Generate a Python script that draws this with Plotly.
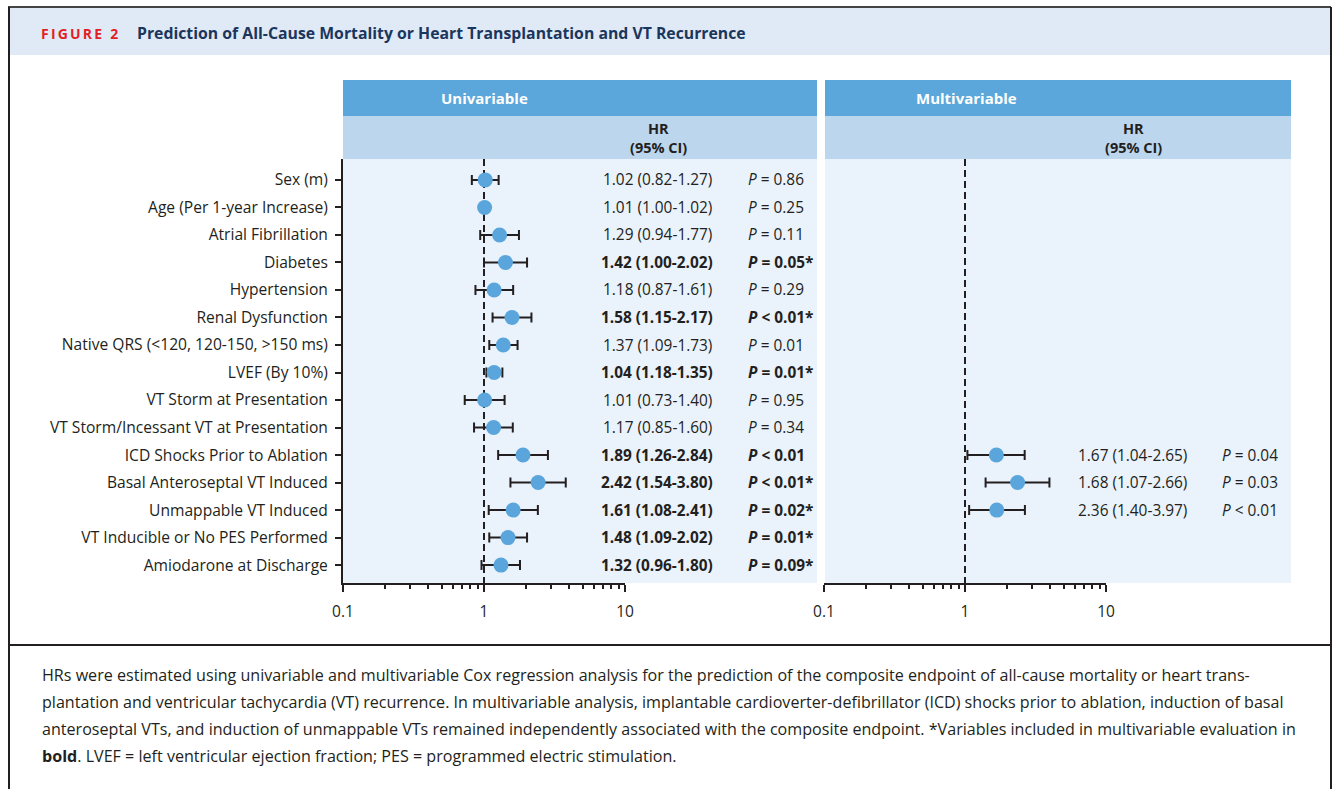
import plotly.graph_objects as go

W, H = 1337, 789


def px(x):
    return x / W


def py(y):
    return 1 - y / H


FONT = "Open Sans"
TXT = "#231f20"
NAVY = "#1b365d"
RED = "#e31e24"
DOT = "#5aa5db"
DARK_HDR = "#5ba6da"
LIGHT_HDR = "#bcd6ee"
PANEL_BG = "#eaf2fb"
TITLE_BG = "#dfeaf6"

# ---------------- data ----------------
variables = [
    "Sex (m)",
    "Age (Per 1-year Increase)",
    "Atrial Fibrillation",
    "Diabetes",
    "Hypertension",
    "Renal Dysfunction",
    "Native QRS (<120, 120-150, >150 ms)",
    "LVEF (By 10%)",
    "VT Storm at Presentation",
    "VT Storm/Incessant VT at Presentation",
    "ICD Shocks Prior to Ablation",
    "Basal Anteroseptal VT Induced",
    "Unmappable VT Induced",
    "VT Inducible or No PES Performed",
    "Amiodarone at Discharge",
]

# univariable hazard ratios as plotted
uni_hr = [1.02, 1.01, 1.29, 1.42, 1.18, 1.58, 1.37, 1.18, 1.01, 1.17, 1.89, 2.42, 1.61, 1.48, 1.32]
uni_lo = [0.82, 1.00, 0.94, 1.00, 0.87, 1.15, 1.09, 1.04, 0.73, 0.85, 1.26, 1.54, 1.08, 1.09, 0.96]
uni_hi = [1.27, 1.02, 1.77, 2.02, 1.61, 2.17, 1.73, 1.35, 1.40, 1.60, 2.84, 3.80, 2.41, 2.02, 1.80]

uni_ci_text = [
    "1.02 (0.82-1.27)", "1.01 (1.00-1.02)", "1.29 (0.94-1.77)", "1.42 (1.00-2.02)",
    "1.18 (0.87-1.61)", "1.58 (1.15-2.17)", "1.37 (1.09-1.73)", "1.04 (1.18-1.35)",
    "1.01 (0.73-1.40)", "1.17 (0.85-1.60)", "1.89 (1.26-2.84)", "2.42 (1.54-3.80)",
    "1.61 (1.08-2.41)", "1.48 (1.09-2.02)", "1.32 (0.96-1.80)",
]
uni_p_text = [
    "= 0.86", "= 0.25", "= 0.11", "= 0.05*", "= 0.29", "< 0.01*", "= 0.01", "= 0.01*",
    "= 0.95", "= 0.34", "< 0.01", "< 0.01*", "= 0.02*", "= 0.01*", "= 0.09*",
]
uni_bold = [False, False, False, True, False, True, False, True,
            False, False, True, True, True, True, True]

# multivariable (rows where a result exists)
multi_vars = ["ICD Shocks Prior to Ablation", "Basal Anteroseptal VT Induced", "Unmappable VT Induced"]
multi_hr = [1.67, 2.36, 1.68]
multi_lo = [1.04, 1.40, 1.07]
multi_hi = [2.65, 3.97, 2.66]
multi_ci_text = ["1.67 (1.04-2.65)", "1.68 (1.07-2.66)", "2.36 (1.40-3.97)"]
multi_p_text = ["= 0.04", "= 0.03", "< 0.01"]

x_tickvals = [0.1, 1, 10]
x_ticktext = ["0.1", "1", "10"]
x_minor = [0.2, 0.3, 0.4, 0.5, 0.6, 0.7, 0.8, 0.9, 2, 3, 4, 5, 6, 7, 8, 9]

caption_lines = [
    "HRs were estimated using univariable and multivariable Cox regression analysis for the prediction of the composite endpoint of all-cause mortality or heart trans-",
    "plantation and ventricular tachycardia (VT) recurrence. In multivariable analysis, implantable cardioverter-defibrillator (ICD) shocks prior to ablation, induction of basal",
    "anteroseptal VTs, and induction of unmappable VTs remained independently associated with the composite endpoint. *Variables included in multivariable evaluation in",
    "<b>bold</b>. LVEF = left ventricular ejection fraction; PES = programmed electric stimulation.",
]

# ---------------- figure ----------------
rows = list(range(len(variables)))
multi_rows = [variables.index(v) for v in multi_vars]
Y_RANGE = [14.65, -0.76]

fig = go.Figure()

for xa, ya in (("x", "y"), ("x2", "y2")):
    fig.add_trace(go.Scatter(
        x=[1, 1], y=[Y_RANGE[1], Y_RANGE[0]], mode="lines",
        line=dict(color=TXT, width=2, dash="7px,4px"),
        xaxis=xa, yaxis=ya, hoverinfo="skip", showlegend=False,
    ))

fig.add_trace(go.Scatter(
    x=uni_hr, y=rows, mode="markers",
    marker=dict(size=15, color=DOT),
    error_x=dict(type="data", symmetric=False,
                 array=[h - m for h, m in zip(uni_hi, uni_hr)],
                 arrayminus=[m - l for m, l in zip(uni_hr, uni_lo)],
                 color=TXT, thickness=2, width=5),
    xaxis="x", yaxis="y", showlegend=False, cliponaxis=False,
))
fig.add_trace(go.Scatter(
    x=multi_hr, y=multi_rows, mode="markers",
    marker=dict(size=15, color=DOT),
    error_x=dict(type="data", symmetric=False,
                 array=[h - m for h, m in zip(multi_hi, multi_hr)],
                 arrayminus=[m - l for m, l in zip(multi_hr, multi_lo)],
                 color=TXT, thickness=2, width=5),
    xaxis="x2", yaxis="y2", showlegend=False, cliponaxis=False,
))

xaxis_common = dict(
    type="log", range=[-1, 1], tickmode="array", tickvals=x_tickvals, ticktext=x_ticktext,
    ticks="outside", ticklen=7, tickwidth=2, tickcolor=TXT,
    showline=True, linewidth=2, linecolor=TXT, showgrid=False, zeroline=False,
    tickfont=dict(family=FONT, size=15.5, color=TXT), ticklabelstandoff=6,
    minor=dict(tickmode="array", tickvals=x_minor, ticks="outside", ticklen=4,
               tickwidth=1.5, tickcolor=TXT, showgrid=False),
    fixedrange=True, automargin=False,
)

shapes = []


def rect(x0, y0, x1, y1, color):
    shapes.append(dict(type="rect", xref="paper", yref="paper", x0=px(x0), x1=px(x1),
                       y0=py(y1), y1=py(y0), fillcolor=color, line=dict(width=0), layer="below"))


def line(x0, y0, x1, y1, color=TXT, width=2):
    shapes.append(dict(type="line", xref="paper", yref="paper", x0=px(x0), x1=px(x1),
                       y0=py(y0), y1=py(y1), line=dict(color=color, width=width), layer="above"))


# title band and frame
rect(9, 8, 1331, 55, TITLE_BG)
line(8, 7, 1331, 7, "#444", 2)
line(9, 7, 9, 789)
line(1331, 7, 1331, 789)
line(9, 645, 1331, 645)

# panels
for x0, x1 in ((343, 817), (825, 1291)):
    rect(x0, 80, x1, 116, DARK_HDR)
    rect(x0, 116, x1, 159, LIGHT_HDR)
    rect(x0, 159, x1, 583, PANEL_BG)

annotations = []

annotations.append(dict(xref="paper", yref="paper", x=px(39), y=py(33), xanchor="left", yanchor="middle",
                        text='<span style="letter-spacing:2.2px"><b>FIGURE 2</b></span>', showarrow=False,
                        font=dict(family=FONT, size=14, color=RED)))
annotations.append(dict(xref="paper", yref="paper", x=px(135), y=py(33), xanchor="left", yanchor="middle",
                        text="<b>Prediction of All-Cause Mortality or Heart Transplantation and VT Recurrence</b>",
                        showarrow=False, font=dict(family=FONT, size=15.8, color=NAVY)))

for label, cx, hx in (("Univariable", 484, 658), ("Multivariable", 966, 1133)):
    annotations.append(dict(xref="paper", yref="paper", x=px(cx), y=py(98), xanchor="center",
                            yanchor="middle", text=f"<b>{label}</b>", showarrow=False,
                            font=dict(family=FONT, size=15, color="white")))
    annotations.append(dict(xref="paper", yref="paper", x=px(hx), y=py(128), xanchor="center",
                            yanchor="middle", text="<b>HR</b>", showarrow=False,
                            font=dict(family=FONT, size=14.5, color=TXT)))
    annotations.append(dict(xref="paper", yref="paper", x=px(hx), y=py(147), xanchor="center",
                            yanchor="middle", text="<b>(95% CI)</b>", showarrow=False,
                            font=dict(family=FONT, size=14.5, color=TXT)))

VAL_SIZE = 15.4
for i, (ci, p, b) in enumerate(zip(uni_ci_text, uni_p_text, uni_bold)):
    ci_t = f"<b>{ci}</b>" if b else ci
    p_t = f"<b><i>P</i> {p}</b>" if b else f"<i>P</i> {p}"
    annotations.append(dict(xref="paper", yref="y", x=px(657), y=i, xanchor="center", yanchor="middle",
                            text=ci_t, showarrow=False, font=dict(family=FONT, size=VAL_SIZE, color=TXT)))
    annotations.append(dict(xref="paper", yref="y", x=px(746), y=i, xanchor="left", yanchor="middle",
                            text=p_t, showarrow=False, font=dict(family=FONT, size=VAL_SIZE, color=TXT)))

for r, ci, p in zip(multi_rows, multi_ci_text, multi_p_text):
    annotations.append(dict(xref="paper", yref="y2", x=px(1132), y=r, xanchor="center", yanchor="middle",
                            text=ci, showarrow=False, font=dict(family=FONT, size=VAL_SIZE, color=TXT)))
    annotations.append(dict(xref="paper", yref="y2", x=px(1220), y=r, xanchor="left", yanchor="middle",
                            text=f"<i>P</i> {p}", showarrow=False, font=dict(family=FONT, size=VAL_SIZE, color=TXT)))

for k, (txt, yy) in enumerate(zip(caption_lines, (675, 702, 729, 756))):
    annotations.append(dict(xref="paper", yref="paper", x=px(40), y=py(yy), xanchor="left", yanchor="middle",
                            text=txt, showarrow=False, font=dict(family=FONT, size=16.1, color=TXT)))

fig.update_layout(
    width=W, height=H, autosize=False,
    margin=dict(l=0, r=0, t=0, b=0, pad=0, autoexpand=False),
    paper_bgcolor="white", plot_bgcolor="rgba(0,0,0,0)",
    showlegend=False,
    font=dict(family=FONT, color=TXT),
    xaxis=dict(domain=[px(343), px(625)], anchor="y", **xaxis_common),
    xaxis2=dict(domain=[px(824), px(1106)], anchor="y2", **xaxis_common),
    yaxis=dict(domain=[py(583), py(159)], range=Y_RANGE, tickmode="array", tickvals=rows,
               ticktext=variables, ticks="outside", ticklen=6, tickwidth=2, tickcolor=TXT,
               showline=True, linewidth=2, linecolor=TXT, showgrid=False, zeroline=False,
               ticklabelstandoff=4,
               tickfont=dict(family=FONT, size=15.6, color=TXT), fixedrange=True, automargin=False),
    yaxis2=dict(domain=[py(583), py(159)], range=Y_RANGE, anchor="x2", showticklabels=False,
                ticks="", showline=False, showgrid=False, zeroline=False, fixedrange=True,
                automargin=False),
    shapes=shapes,
    annotations=annotations,
)

fig.write_html("out.html", config={"displayModeBar": False})
